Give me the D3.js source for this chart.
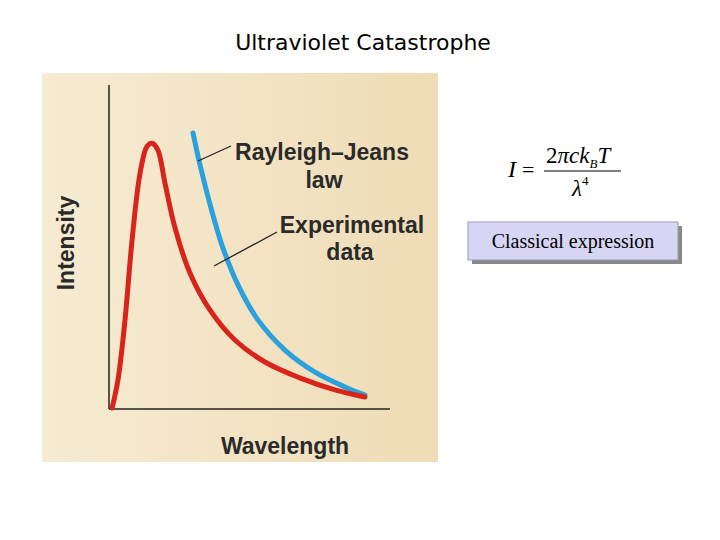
<!DOCTYPE html>
<html><head><meta charset="utf-8">
<script src="https://cdn.jsdelivr.net/npm/d3@7"></script>
<style>body{margin:0;background:#fff}</style></head>
<body><svg id="c" width="720" height="540"></svg>
<script>
const expX=[0.11,0.32,0.57,0.82,1.1,1.35,1.53,1.74,1.99,2.35,2.88,3.59,4.48,5.55,6.79,8.04,9.11];
const expY=[0.03,0.9,2.75,5.2,7.25,8.1,8.2,7.99,6.98,5.59,4.2,3.06,2.13,1.45,0.96,0.59,0.37];
const rjX=[2.99,3.24,3.6,4.02,4.59,5.3,6.26,7.33,8.4,9.11];
const rjY=[8.52,7.53,6.3,5.06,3.83,2.75,1.82,1.14,0.68,0.43];
const svg=d3.select("#c");
svg.append("text").attr("x",363).attr("y",50).attr("text-anchor","middle").attr("font-family","DejaVu Sans").attr("font-size",22).text("Ultraviolet Catastrophe");
const defs=svg.append("defs");
const g0=defs.append("linearGradient").attr("id","bg");
g0.append("stop").attr("offset","0").attr("stop-color","#f6ebd2");
g0.append("stop").attr("offset","1").attr("stop-color","#efdcb6");
svg.append("rect").attr("x",42).attr("y",73).attr("width",396).attr("height",389).attr("fill","url(#bg)");
const x=d3.scaleLinear().domain([0,10]).range([109,390]);
const y=d3.scaleLinear().domain([0,10]).range([409,85]);
svg.append("line").attr("x1",109).attr("x2",109).attr("y1",85).attr("y2",409).attr("stroke","#222").attr("stroke-width",1.5);
svg.append("line").attr("x1",109).attr("x2",390).attr("y1",409).attr("y2",409).attr("stroke","#222").attr("stroke-width",1.5);
const line=d3.line().x(d=>x(d[0])).y(d=>y(d[1])).curve(d3.curveCatmullRom);
svg.append("path").attr("d",line(rjX.map((v,i)=>[v,rjY[i]]))).attr("fill","none").attr("stroke","#2aa0dc").attr("stroke-width",5).attr("stroke-linecap","round");
svg.append("path").attr("d",line(expX.map((v,i)=>[v,expY[i]]))).attr("fill","none").attr("stroke","#d9241b").attr("stroke-width",5).attr("stroke-linecap","round");
svg.append("line").attr("x1",198).attr("y1",161).attr("x2",231).attr("y2",146).attr("stroke","#222").attr("stroke-width",1.3);
svg.append("line").attr("x1",214).attr("y1",266).attr("x2",277).attr("y2",232).attr("stroke","#222").attr("stroke-width",1.3);
const lab=(t,xx,yy)=>svg.append("text").attr("x",xx).attr("y",yy).attr("text-anchor","middle").attr("font-family","Liberation Sans").attr("font-weight","bold").attr("font-size",23).attr("fill","#2a2a2a").text(t);
lab("Rayleigh–Jeans",322,160);lab("law",324,188);
lab("Experimental",352,233);lab("data",350,260);
lab("Wavelength",285,454);
svg.append("text").attr("transform","translate(74,243) rotate(-90)").attr("text-anchor","middle").attr("font-family","Liberation Sans").attr("font-weight","bold").attr("font-size",23).attr("fill","#2a2a2a").text("Intensity");
const f=svg.append("g").attr("font-family","Liberation Serif");
f.append("text").attr("x",508).attr("y",177).attr("font-size",24).attr("font-style","italic").text("I");
f.append("text").attr("x",522).attr("y",177).attr("font-size",22).text("=");
const num=f.append("text").attr("x",546).attr("y",163).attr("font-size",23);
num.append("tspan").text("2");
num.append("tspan").attr("font-style","italic").text("πck");
num.append("tspan").attr("font-style","italic").attr("font-size",13).attr("dy",5).text("B");
num.append("tspan").attr("font-style","italic").attr("dy",-5).text("T");
f.append("line").attr("x1",544).attr("x2",621).attr("y1",171).attr("y2",171).attr("stroke","#000").attr("stroke-width",1);
const den=f.append("text").attr("x",572).attr("y",196).attr("font-size",23);
den.append("tspan").attr("font-style","italic").text("λ");
den.append("tspan").attr("font-size",13).attr("dy",-11).text("4");
svg.append("rect").attr("x",472).attr("y",226).attr("width",210).attr("height",38).attr("fill","#888");
svg.append("rect").attr("x",468).attr("y",222).attr("width",210).attr("height",38).attr("fill","#d6d6f4").attr("stroke","#9a9ab8");
svg.append("text").attr("x",573).attr("y",248).attr("text-anchor","middle").attr("font-family","Liberation Serif").attr("font-size",20).text("Classical expression");
</script></body></html>
